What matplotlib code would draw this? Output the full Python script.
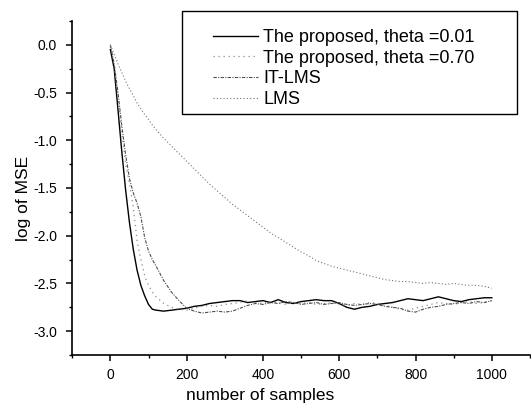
import matplotlib
matplotlib.use("Agg")
import matplotlib.pyplot as plt
from matplotlib.ticker import MultipleLocator
from matplotlib.patches import Rectangle

plt.rcParams['font.family'] = ['Liberation Sans', 'DejaVu Sans']

# sample index grid shared by all curves
samples = [0, 5, 10, 20, 30, 40, 50, 60, 70, 80, 90, 100, 110, 120,
           140, 160, 180, 200, 220, 240, 260, 280, 300, 320,
           340, 360, 380, 400, 420, 440, 460, 480, 500, 520,
           540, 560, 580, 600, 620, 640, 660, 680, 700, 720,
           740, 760, 780, 800, 820, 840, 860, 880, 900, 920,
           940, 960, 980, 1000]

theta_001 = [-0.05, -0.15, -0.25, -0.68, -1.12, -1.52, -1.86, -2.14, -2.36, -2.52, -2.63, -2.72, -2.77, -2.78,
             -2.79, -2.78, -2.77, -2.76, -2.74, -2.73, -2.71, -2.70, -2.69, -2.68,
             -2.68, -2.70, -2.69, -2.68, -2.70, -2.67, -2.70, -2.71, -2.69, -2.68,
             -2.67, -2.68, -2.68, -2.71, -2.75, -2.77, -2.75, -2.74, -2.72, -2.71,
             -2.70, -2.68, -2.66, -2.67, -2.68, -2.66, -2.64, -2.66, -2.68, -2.69,
             -2.67, -2.66, -2.65, -2.65]

theta_070 = [-0.02, -0.12, -0.22, -0.55, -0.92, -1.25, -1.45, -1.70, -2.05, -2.25, -2.42, -2.52, -2.59, -2.64,
             -2.71, -2.75, -2.77, -2.78, -2.76, -2.74, -2.73, -2.74, -2.72, -2.71,
             -2.70, -2.68, -2.70, -2.71, -2.69, -2.70, -2.72, -2.70, -2.71, -2.70,
             -2.72, -2.71, -2.70, -2.72, -2.73, -2.71, -2.72, -2.70, -2.71, -2.73,
             -2.75, -2.77, -2.78, -2.76, -2.74, -2.72, -2.70, -2.71, -2.72, -2.70,
             -2.69, -2.71, -2.70, -2.68]

it_lms = [0.0, -0.10, -0.20, -0.50, -0.85, -1.15, -1.40, -1.55, -1.66, -1.80, -2.02, -2.16, -2.25, -2.32,
          -2.47, -2.59, -2.68, -2.76, -2.79, -2.81, -2.80, -2.79, -2.80, -2.79,
          -2.76, -2.73, -2.71, -2.72, -2.70, -2.71, -2.69, -2.70, -2.72, -2.71,
          -2.70, -2.72, -2.71, -2.70, -2.72, -2.73, -2.72, -2.71, -2.72, -2.74,
          -2.75, -2.76, -2.79, -2.80, -2.77, -2.75, -2.74, -2.72, -2.71, -2.70,
          -2.71, -2.69, -2.70, -2.68]

lms = [0.0, -0.05, -0.10, -0.20, -0.29, -0.38, -0.46, -0.53, -0.61, -0.67, -0.73, -0.78, -0.84, -0.89,
       -0.98, -1.06, -1.14, -1.22, -1.30, -1.38, -1.46, -1.53, -1.60, -1.67,
       -1.73, -1.79, -1.85, -1.91, -1.97, -2.02, -2.07, -2.12, -2.17, -2.21,
       -2.26, -2.29, -2.32, -2.34, -2.36, -2.38, -2.40, -2.42, -2.44, -2.46,
       -2.47, -2.48, -2.48, -2.49, -2.50, -2.49, -2.50, -2.51, -2.50, -2.51,
       -2.52, -2.52, -2.53, -2.55]

labels = ['The proposed, theta =0.01', 'The proposed, theta =0.70', 'IT-LMS', 'LMS']

fig = plt.figure(figsize=(5.31, 4.03), dpi=100)
ax = fig.add_axes([0.136, 0.119, 0.862, 0.829])

ax.plot(samples, theta_001, color='black', lw=1.0, label=labels[0])
ax.plot(samples, theta_070, color='0.55', lw=0.9, linestyle=(0, (1, 3)), label=labels[1])
ax.plot(samples, it_lms, color='0.3', lw=0.8, linestyle=(0, (3, 1.2, 1, 1.2)), label=labels[2])
ax.plot(samples, lms, color='0.45', lw=0.8, linestyle=(0, (1, 2)), label=labels[3])

ax.set_xlim(-100, 1100)
ax.set_ylim(-3.25, 0.25)
ax.xaxis.set_major_locator(MultipleLocator(200))
ax.xaxis.set_minor_locator(MultipleLocator(100))
ax.yaxis.set_major_locator(MultipleLocator(0.5))
ax.yaxis.set_minor_locator(MultipleLocator(0.25))
ax.yaxis.set_major_formatter(plt.FuncFormatter(lambda v, p: f'{v:.1f}'))

ax.spines['top'].set_visible(False)
ax.spines['right'].set_visible(False)
ax.spines['left'].set_linewidth(1.2)
ax.spines['bottom'].set_linewidth(1.2)
ax.tick_params(which='major', direction='out', length=4, width=1.1, labelsize=10)
ax.tick_params(axis='y', which='major', pad=7)
ax.tick_params(axis='x', which='major', pad=5)
ax.tick_params(which='minor', direction='out', length=2.5, width=1.0)

ax.set_xlabel('number of samples', fontsize=12.5)
ax.set_ylabel('log of MSE', fontsize=12.5)
ax.xaxis.set_label_coords(0.41, -0.1)
ax.yaxis.set_label_coords(-0.09, 0.47)

# legend box drawn separately so the entries can sit where they do in the original
box = Rectangle((0.343, 0.717), 0.631, 0.256, transform=fig.transFigure,
                facecolor='white', edgecolor='black', lw=1.0, zorder=5, clip_on=False)
ax.add_patch(box)
leg = ax.legend(loc='upper left', bbox_to_anchor=(0.401, 0.928),
                bbox_transform=fig.transFigure, fontsize=13, frameon=False,
                borderpad=0, labelspacing=0.2, handlelength=2.5,
                handletextpad=0.3, borderaxespad=0)
leg.set_zorder(6)

fig.savefig('out.png', dpi=100)
